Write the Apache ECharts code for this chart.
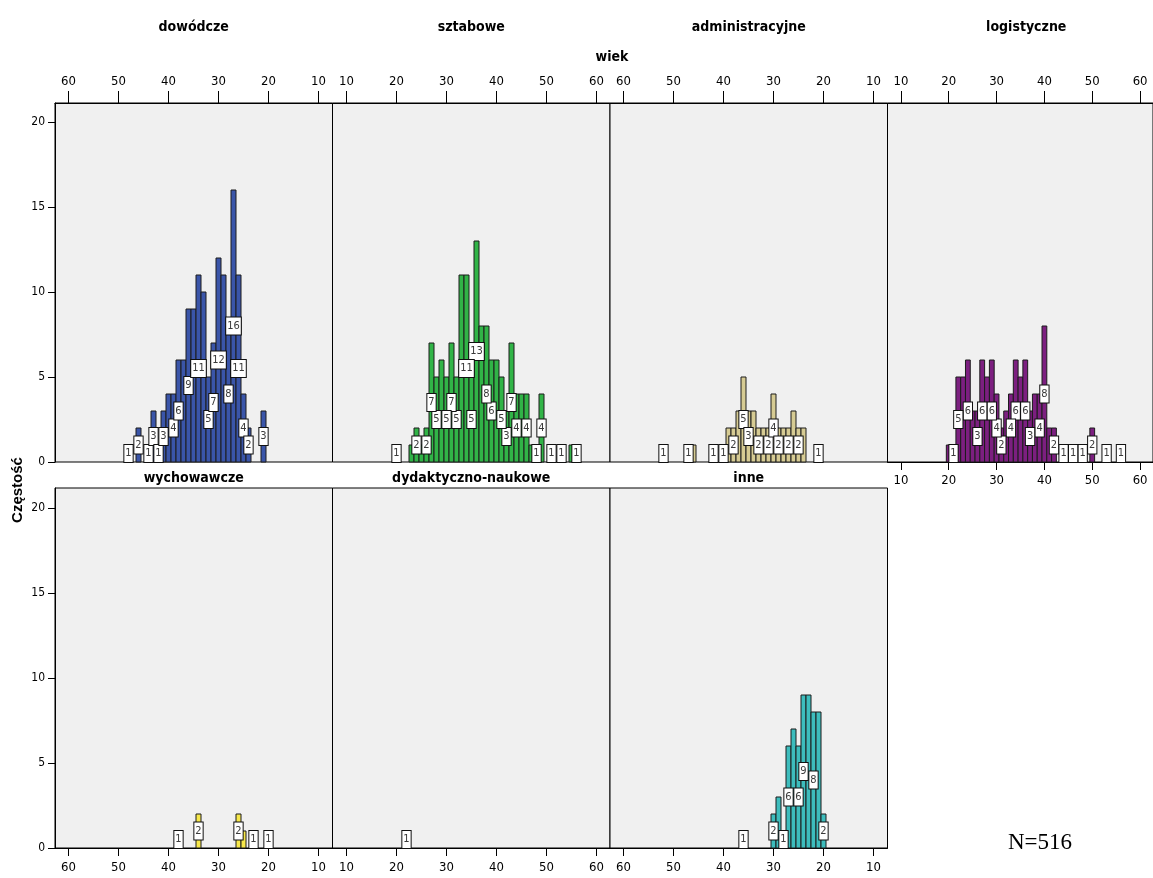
<!DOCTYPE html>
<html>
<head>
<meta charset="utf-8">
<script src="https://cdn.jsdelivr.net/npm/echarts@6/dist/echarts.min.js"></script>
<style>
  html, body { margin: 0; padding: 0; background: #ffffff; }
  #chart { width: 1153px; height: 878px; }
</style>
</head>
<body>
<div id="chart"></div>
<script>
// Age histograms (1-year bins) of personnel, split by type of post.
const panelNames = ['dowódcze', 'sztabowe', 'administracyjne', 'logistyczne',
                    'wychowawcze', 'dydaktyczno-naukowe', 'inne'];
const panelColors = ['#3a55a9', '#31b447', '#d6cb93', '#7c1f80',
                     '#f7e84a', '#e0956e', '#3dbdbd'];

const dowodczeAge   = [48, 46, 44, 43, 42, 41, 40, 39, 38, 37, 36, 35, 34, 33, 32, 31, 30, 29, 28, 27, 26, 25, 24, 21];
const dowodczeCount = [ 1,  2,  1,  3,  1,  3,  4,  4,  6,  6,  9,  9, 11, 10,  5,  7, 12, 11,  8, 16, 11,  4,  2,  3];

const sztaboweAge   = [20, 23, 24, 25, 26, 27, 28, 29, 30, 31, 32, 33, 34, 35, 36, 37, 38, 39, 40, 41, 42, 43, 44, 45, 46, 47, 48, 49, 51, 53, 55, 56];
const sztaboweCount = [ 1,  1,  2,  1,  2,  7,  5,  6,  5,  7,  5, 11, 11,  5, 13,  8,  8,  6,  6,  5,  3,  7,  4,  4,  4,  1,  1,  4,  1,  1,  1,  1];

const administracyjneAge   = [52, 47, 46, 42, 40, 39, 38, 37, 36, 35, 34, 33, 32, 31, 30, 29, 28, 27, 26, 25, 24, 21];
const administracyjneCount = [ 1,  1,  1,  1,  1,  2,  2,  3,  5,  3,  3,  2,  2,  2,  4,  2,  2,  2,  3,  2,  2,  1];

const logistyczneAge   = [20, 21, 22, 23, 24, 25, 26, 27, 28, 29, 30, 31, 32, 33, 34, 35, 36, 37, 38, 39, 40, 41, 42, 44, 46, 48, 50, 53, 56];
const logistyczneCount = [ 1,  1,  5,  5,  6,  3,  3,  6,  5,  6,  4,  2,  3,  4,  6,  5,  6,  3,  4,  4,  8,  2,  2,  1,  1,  1,  2,  1,  1];

const wychowawczeAge   = [38, 34, 26, 25, 23, 20];
const wychowawczeCount = [ 1,  2,  2,  1,  1,  1];

const dydaktyczneAge   = [22];
const dydaktyczneCount = [ 1];

const inneAge   = [36, 30, 29, 28, 27, 26, 25, 24, 23, 22, 21, 20];
const inneCount = [ 1,  2,  3,  1,  6,  7,  6,  9,  9,  8,  8,  2];

const ageTicks = [10, 20, 30, 40, 50, 60];
const countTicks = [0, 5, 10, 15, 20];

const panelAges = [dowodczeAge, sztaboweAge, administracyjneAge, logistyczneAge,
                   wychowawczeAge, dydaktyczneAge, inneAge];
const panelCounts = [dowodczeCount, sztaboweCount, administracyjneCount, logistyczneCount,
                     wychowawczeCount, dydaktyczneCount, inneCount];
// panels whose age axis runs from 60 down to 10
const reversedPanel = [true, false, true, false, true, false, true];

const NARROW = '"Liberation Sans Narrow", "Arial Narrow", "DejaVu Sans Condensed", "Liberation Sans", sans-serif';

// ---- layout ----
const colLeft = [55, 332.5, 610, 887.5];
const panelW = 277.5;
const rowTop = [103, 488];
const rowH = [359, 360];
const pxPerCount = 17;
const ageMin = 7.2, ageMax = 62.7;

const grids = [], xAxes = [], yAxes = [], series = [];

function panelPos(i) {
  return i < 4 ? { col: i, row: 0 } : { col: i - 4, row: 1 };
}

// value labels: walk from the oldest age down, drop a label that would
// collide with the visible label of the next-older neighbour
function visibleLabels(ages, counts) {
  const order = ages.map((a, k) => k).sort((p, q) => ages[q] - ages[p]);
  const out = [];
  let prev = null;
  order.forEach(k => {
    const a = ages[k], c = counts[k];
    let show = true;
    if (prev && prev.shown && prev.age === a + 1 && Math.abs(prev.count - c) <= 1) show = false;
    if (show) out.push([a, c]);
    prev = { age: a, count: c, shown: show };
  });
  return out;
}

for (let i = 0; i < 7; i++) {
  const { col, row } = panelPos(i);
  grids.push({
    left: colLeft[col], top: rowTop[row], width: panelW, height: rowH[row],
    show: true, backgroundColor: '#f0f0f0', borderColor: '#000', borderWidth: 1
  });

  const onTop = row === 0;
  xAxes.push({
    type: 'value', gridIndex: i, min: ageMin, max: ageMax,
    inverse: reversedPanel[i], position: onTop ? 'top' : 'bottom',
    axisLine: { show: true, onZero: false, lineStyle: { color: '#000', width: 1 } },
    axisTick: { show: true, length: onTop ? 12 : 8, customValues: ageTicks, lineStyle: { color: '#000' } },
    axisLabel: { show: true, customValues: ageTicks, margin: onTop ? 15 : 13,
                 fontSize: 13, color: '#000', fontFamily: NARROW },
    splitLine: { show: false }
  });

  const showY = col === 0;
  yAxes.push({
    type: 'value', gridIndex: i, min: 0, max: rowH[row] / pxPerCount,
    show: showY,
    axisLine: { show: true, lineStyle: { color: '#000' } },
    axisTick: { show: true, length: 7, customValues: countTicks, lineStyle: { color: '#000' } },
    axisLabel: { show: true, customValues: countTicks, margin: 10, fontSize: 12,
                 color: '#000', fontFamily: NARROW },
    splitLine: { show: false }
  });
}

// logistyczne also carries an age scale along its lower edge
xAxes.push({
  type: 'value', gridIndex: 3, min: ageMin, max: ageMax, inverse: false, position: 'bottom',
  axisLine: { show: true, onZero: false, lineStyle: { color: '#000', width: 1 } },
  axisTick: { show: true, length: 8, customValues: ageTicks, lineStyle: { color: '#000' } },
  axisLabel: { show: true, customValues: ageTicks, margin: 12, fontSize: 13, color: '#000', fontFamily: NARROW },
  splitLine: { show: false }
});

for (let i = 0; i < 7; i++) {
  const color = panelColors[i];
  const barData = panelAges[i].map((a, k) => [a, panelCounts[i][k]]);
  series.push({
    type: 'custom', xAxisIndex: i, yAxisIndex: i, z: 2,
    data: barData, encode: { x: 0, y: 1 },
    renderItem: function (params, api) {
      const a = api.value(0), v = api.value(1);
      const pTop = api.coord([a - 0.5, v]);
      const pBot = api.coord([a + 0.5, 0]);
      const x = Math.min(pTop[0], pBot[0]);
      const w = Math.abs(pBot[0] - pTop[0]);
      return {
        type: 'rect',
        shape: { x: x, y: pTop[1], width: w, height: pBot[1] - pTop[1] },
        style: { fill: color, stroke: '#1c1c1c', lineWidth: 1 }
      };
    }
  });
  series.push({
    type: 'custom', xAxisIndex: i, yAxisIndex: i, z: 5,
    data: visibleLabels(panelAges[i], panelCounts[i]), encode: { x: 0, y: 1 },
    renderItem: function (params, api) {
      const a = api.value(0), v = api.value(1);
      const c = api.coord([a, v / 2]);
      return {
        type: 'text', x: c[0], y: c[1],
        style: {
          text: String(v), fill: '#3a3a3a',
          font: '11px ' + NARROW,
          align: 'center', verticalAlign: 'middle',
          textAlign: 'center', textVerticalAlign: 'middle',
          backgroundColor: '#ffffff', borderColor: '#111', borderWidth: 1,
          padding: [3, 1, 3, 1]
        }
      };
    }
  });
}

// titles and annotations
const graphics = [];
function addText(x, y, text, font, rotation) {
  graphics.push({
    type: 'text', x: x, y: y, rotation: rotation || 0, z: 10,
    style: { text: text, font: font, fill: '#000',
             align: 'center', verticalAlign: 'middle',
             textAlign: 'center', textVerticalAlign: 'middle' }
  });
}
const titleFont = 'bold 14px ' + NARROW;
for (let i = 0; i < 7; i++) {
  const { col, row } = panelPos(i);
  const cx = colLeft[col] + panelW / 2;
  addText(cx, row === 0 ? 27 : 478, panelNames[i], titleFont);
}
addText(612, 57, 'wiek', titleFont);
addText(18, 490, 'Częstość', 'bold 15px "Liberation Sans", Arial, sans-serif', Math.PI / 2);
addText(1040, 843, 'N=516', '23px "Liberation Serif", "Times New Roman", serif');

const chart = echarts.init(document.getElementById('chart'), null, { renderer: 'canvas' });
chart.setOption({
  animation: false,
  backgroundColor: '#ffffff',
  grid: grids,
  xAxis: xAxes,
  yAxis: yAxes,
  series: series,
  graphic: graphics
});
</script>
</body>
</html>
